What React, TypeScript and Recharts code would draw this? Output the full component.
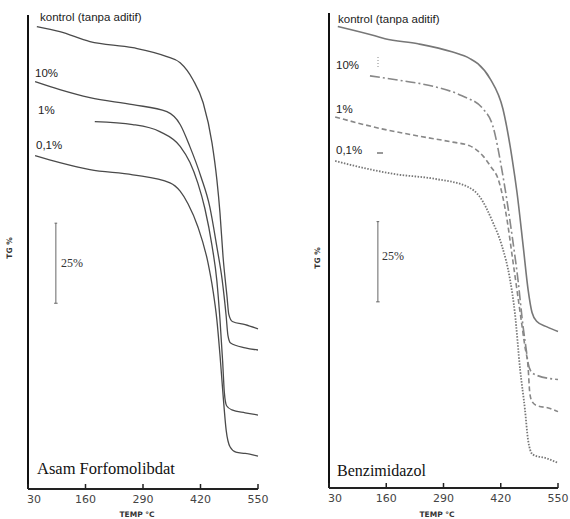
import { Line, LineChart, ReferenceLine, XAxis, YAxis } from "recharts";

// temperature (°C) vs TG % (relative, 25% bar drawn on the plot)
const TEMP_TICKS = [30, 160, 290, 420, 550];
const TG_MAX = 148;

const asamKontrol: [number, number][] = [
  [50, 144.4], [102, 142.8], [170, 139.7], [267, 137.8], [344, 135], [374, 133.1],
  [403, 127.8], [426, 120.6], [446, 108.1], [457, 96.6], [464, 86.3], [471, 72.5],
  [480, 60], [484, 54.5], [492, 52.3], [521, 51.3], [550, 50],
];
const asam10: [number, number][] = [
  [46, 127.2], [102, 124.7], [170, 122.2], [267, 120], [344, 117.8], [374, 113.8],
  [396, 106.9], [421, 97.5], [441, 88.1], [457, 75.6], [469, 65.3], [478, 54],
  [482, 48], [488, 45.6], [521, 44.1], [550, 43.4],
];
const asam1: [number, number][] = [
  [181, 114.7], [267, 113.8], [328, 111.6], [374, 107], [396, 102], [414, 95.5],
  [430, 87.5], [446, 76], [457, 65], [464, 53], [470, 40], [474, 30], [479, 26],
  [491, 24.7], [521, 23.8], [550, 23.1],
];
const asam01: [number, number][] = [
  [46, 104.1], [102, 101.9], [170, 99.7], [267, 98.1], [351, 95.6], [374, 93],
  [392, 89], [414, 81.9], [437, 70.6], [448, 62.2], [457, 52.8], [464, 41.9],
  [471, 29.4], [478, 18.4], [487, 13.1], [500, 11.5], [521, 11.1], [550, 10.3],
];

const benzKontrol: [number, number][] = [
  [50, 143.8], [134, 140.9], [157, 140], [232, 138.4], [309, 135.9], [350, 133.8],
  [368, 132.2], [396, 127.5], [425, 118.1], [446, 102.5], [457, 92], [471, 75.3],
  [482, 61.9], [491, 54.7], [502, 51.9], [525, 50.2], [550, 48.8],
];
const benz10: [number, number][] = [
  [123, 128.4], [196, 126.9], [271, 125], [332, 122.2], [380, 118.1], [402, 112.8],
  [424, 98], [446, 78.4], [459, 65], [471, 50], [477, 44], [482, 39], [488, 36.5],
  [500, 35.2], [550, 33.8],
];
const benz1: [number, number][] = [
  [44, 115.6], [150, 111.9], [232, 109.7], [309, 107.8], [350, 106.6], [380, 103.4],
  [398, 100], [414, 96.3], [434, 83.8], [448, 70.3], [464, 54.7], [475, 44],
  [482, 37.8], [486, 29.5], [491, 27], [500, 25.8], [532, 24.8], [550, 23.8],
];
const benz01: [number, number][] = [
  [44, 101.9], [119, 99.4], [180, 97.8], [271, 96.3], [346, 93.8], [373, 90.6],
  [402, 82.8], [423, 75.3], [441, 65], [452, 54.7], [464, 36.9], [475, 24.4],
  [482, 15], [487, 11.8], [493, 10.4], [525, 9.2], [550, 7.8],
];

type Series = { name: string; points: [number, number][]; stroke: string; width: number; dash?: string };

const asamSeries: Series[] = [
  { name: "kontrol", points: asamKontrol, stroke: "#4a4a4a", width: 1.3 },
  { name: "10%", points: asam10, stroke: "#4a4a4a", width: 1.3 },
  { name: "1%", points: asam1, stroke: "#4a4a4a", width: 1.3 },
  { name: "0,1%", points: asam01, stroke: "#4a4a4a", width: 1.3 },
];
const benzSeries: Series[] = [
  { name: "kontrol", points: benzKontrol, stroke: "#777", width: 1.6 },
  { name: "10%", points: benz10, stroke: "#888", width: 1.6, dash: "10 3 2 3" },
  { name: "1%", points: benz1, stroke: "#888", width: 1.6, dash: "5 3" },
  { name: "0,1%", points: benz01, stroke: "#777", width: 1.8, dash: "1.5 1.5" },
];

function toRows(points: [number, number][]) {
  return points.map(([t, tg]) => ({ t, tg }));
}

function TempTick(props: any) {
  const { x, y, payload } = props;
  const dx = payload.value === 30 ? 6 : 0;
  return (
    <g>
      <line x1={x} x2={x} y1={y} y2={y - 5} stroke="#222" strokeWidth={1.5} />
      <text x={x + dx} y={y + 14} textAnchor="middle" fontSize={11} fill="#444" fontFamily="DejaVu Sans">
        {payload.value}
      </text>
    </g>
  );
}

function TgPanel({ left, width, margin, axisH, series, barT }: any) {
  return (
    <div style={{ position: "absolute", left, top: 0 }}>
      <LineChart width={width} height={519} margin={margin}>
        <XAxis
          type="number"
          dataKey="t"
          domain={[30, 550]}
          ticks={TEMP_TICKS}
          interval={0}
          height={axisH}
          axisLine={{ stroke: "#222", strokeWidth: 2 }}
          tickLine={false}
          tickSize={0}
          tickMargin={0}
          tick={<TempTick />}
        />
        <YAxis type="number" dataKey="tg" domain={[0, TG_MAX]} hide />
        <ReferenceLine x={30} stroke="#111" strokeWidth={2} />
        <ReferenceLine segment={[{ x: barT, y: 58 }, { x: barT, y: 83 }]} stroke="#666" strokeWidth={1} />
        <ReferenceLine segment={[{ x: barT - 4, y: 58 }, { x: barT + 4, y: 58 }]} stroke="#666" strokeWidth={1} />
        <ReferenceLine segment={[{ x: barT - 3, y: 83 }, { x: barT + 3, y: 83 }]} stroke="#666" strokeWidth={1} />
        {series.map((s: Series) => (
          <Line
            key={s.name}
            data={toRows(s.points)}
            dataKey="tg"
            type="monotone"
            stroke={s.stroke}
            strokeWidth={s.width}
            strokeDasharray={s.dash}
            dot={false}
            isAnimationActive={false}
          />
        ))}
      </LineChart>
    </div>
  );
}

const sans = "Liberation Sans";
const serif = "Liberation Serif";

export default function App() {
  return (
    <div style={{ position: "absolute", left: 0, top: 0, width: 570, height: 519, background: "#fff", overflow: "hidden" }}>
      <TgPanel left={0} width={290} margin={{ top: 15, right: 32, bottom: 0, left: 28 }} axisH={30} series={asamSeries} barT={93} />
      <TgPanel left={285} width={285} margin={{ top: 13, right: 12, bottom: 0, left: 44 }} axisH={31} series={benzSeries} barT={141} />
      <svg width={570} height={519} style={{ position: "absolute", left: 0, top: 0, pointerEvents: "none" }}>
        <g fontFamily={sans} fontSize={11.5} fill="#222">
          <text x={40} y={21}>kontrol (tanpa aditif)</text>
          <text x={35} y={77}>10%</text>
          <text x={38} y={114}>1%</text>
          <text x={36} y={149}>0,1%</text>
          <text x={338} y={23}>kontrol (tanpa aditif)</text>
          <text x={336} y={69}>10%</text>
          <text x={336} y={113}>1%</text>
          <text x={336} y={154}>0,1%</text>
        </g>
        <line x1={378} x2={378} y1={57} y2={67} stroke="#888" strokeWidth={1} strokeDasharray="1 2" />
        <line x1={377} x2={383} y1={153} y2={153} stroke="#555" strokeWidth={1.2} />
        <g fontFamily={serif} fill="#333">
          <text x={61} y={267} fontSize={12}>25%</text>
          <text x={382} y={260} fontSize={12}>25%</text>
          <text x={37} y={474} fontSize={16.5} fill="#111">Asam Forfomolibdat</text>
          <text x={337} y={476} fontSize={16} fill="#111">Benzimidazol</text>
        </g>
        <g fontFamily="DejaVu Sans" fontSize={7.5} fontWeight="bold" fill="#333">
          <text x={137} y={517} textAnchor="middle">TEMP °C</text>
          <text x={437} y={517} textAnchor="middle">TEMP °C</text>
          <text transform="translate(12 248) rotate(-90)" textAnchor="middle">TG %</text>
          <text transform="translate(320 258) rotate(-90)" textAnchor="middle">TG %</text>
        </g>
      </svg>
    </div>
  );
}
